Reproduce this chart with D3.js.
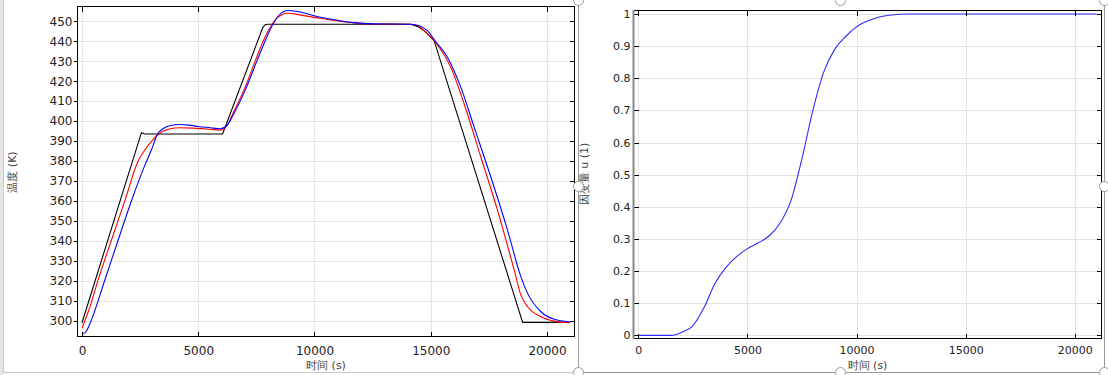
<!DOCTYPE html>
<html>
<head>
<meta charset="utf-8">
<script src="https://cdn.jsdelivr.net/npm/d3@7/dist/d3.min.js"></script>
<style>
  body { margin: 0; background: #fff; }
  svg { display: block; font-family: "DejaVu Sans", sans-serif; }
</style>
</head>
<body>
<svg id="chart" width="1108" height="375"></svg>
<script>
// tick labels
var timeTicks = [0, 5000, 10000, 15000, 20000]
var tempTicks = [300, 310, 320, 330, 340, 350, 360, 370, 380, 390, 400, 410, 420, 430, 440, 450]
var uTicks = [0, 0.1, 0.2, 0.3, 0.4, 0.5, 0.6, 0.7, 0.8, 0.9, 1]

// left chart: set temperature (black)
var setTime = [0, 2556, 2700, 6047, 7780, 7880, 7980, 14140, 14450, 14750, 15142, 18953, 21000]
var setTemp = [299, 394.2, 393.5, 393.5, 447, 448.3, 448.5, 448.5, 447.3, 445, 440.4, 299.2, 299.2]

// left chart: red curve
var redTime = [0, 300, 690, 1264, 1840, 2414, 2701, 3000, 3276, 3500, 3793, 4200, 4800, 5517, 5950, 6236,
  6500, 7000, 7457, 7700, 8000, 8300, 8600, 8823, 9200, 9600, 10259, 11000, 11695, 12500, 14140,
  14450, 14711, 15000, 15358, 15862, 16436, 17155, 17874, 18592, 18879, 19166, 19741, 20316, 20962]
var redTemp = [296.3, 305.5, 320.3, 340.3, 360, 380, 385.5, 390, 393.3, 395, 396.2, 396.7, 396.5, 395.9, 395.5, 397.8,
  404, 416.5, 430.3, 437.5, 445, 450.5, 453.3, 454, 453.6, 452.7, 451.5, 450.2, 449.2, 448.6, 448.5,
  447.8, 445.3, 442, 437, 427, 408.7, 382, 355.3, 325.3, 312.8, 307, 302, 299.8, 299]

// left chart: blue curve
var blueTime = [0, 200, 401, 978, 1552, 2125, 2701, 3000, 3250, 3500, 3800, 4200, 4600, 5000, 5517, 5950, 6236,
  6500, 7000, 7529, 7800, 8100, 8400, 8823, 9200, 9600, 10259, 11000, 11695, 12500, 14140,
  14500, 14856, 15200, 15718, 16293, 16867, 17586, 18305, 18879, 19166, 19741, 20316, 20962]
var blueTemp = [293.2, 295, 300.3, 320.3, 340.3, 360, 377.8, 386, 393.5, 396.3, 397.8, 398.3, 398, 397.3, 396.7, 396.2, 397.8,
  403, 415, 430.3, 438, 446, 452, 455.4, 455, 454, 452, 450.5, 449.3, 448.7, 448.5,
  447.8, 445.3, 440, 432, 417, 397, 372, 345.3, 322, 313.7, 304.5, 300.7, 299.5]

// right chart: dependent variable u
var uTime = [0, 1500, 2000, 2500, 3000, 3500, 4000, 4500, 5000, 5500, 6000, 6500, 7000, 7500, 8000,
  8500, 9000, 9500, 10000, 10500, 11000, 11500, 12000, 12500, 21000]
var uValue = [0, 0, 0.01, 0.03, 0.085, 0.16, 0.21, 0.245, 0.27, 0.288, 0.31, 0.35, 0.42, 0.55, 0.7,
  0.82, 0.89, 0.93, 0.96, 0.978, 0.99, 0.996, 0.999, 1, 1]

function zip(ts, vs) {
  return ts.map(function(t, i) { return { t: t, v: vs[i] } })
}

var svg = d3.select('#chart')

// window chrome around the panels
svg.append('rect').attr('x', 0).attr('y', 0).attr('width', 3).attr('height', 375).attr('fill', '#e6e6e6')
svg.append('line').attr('x1', 3.5).attr('x2', 3.5).attr('y1', 0).attr('y2', 372.5)
  .attr('stroke', '#c8c8c8')
svg.append('line').attr('x1', 3).attr('x2', 578).attr('y1', 372.5).attr('y2', 372.5)
  .attr('stroke', '#c8c8c8')

function drawPanel(cfg) {
  var x = cfg.x, y = cfg.y
  var left = x.range()[0], right = x.range()[1]
  var bottom = y.range()[0], top = y.range()[1]
  var g = svg.append('g')

  g.append('clipPath').attr('id', cfg.id + '-clip')
    .append('rect').attr('x', left).attr('y', top)
    .attr('width', right - left).attr('height', bottom - top)

  // grid
  g.selectAll('.gx').data(cfg.xTicks).enter().append('line')
    .attr('x1', function(d) { return Math.round(x(d)) + 0.5 })
    .attr('x2', function(d) { return Math.round(x(d)) + 0.5 })
    .attr('y1', top).attr('y2', bottom)
    .attr('stroke', '#e4e4e4')
  g.selectAll('.gy').data(cfg.yTicks).enter().append('line')
    .attr('x1', left).attr('x2', right)
    .attr('y1', function(d) { return Math.round(y(d)) + 0.5 })
    .attr('y2', function(d) { return Math.round(y(d)) + 0.5 })
    .attr('stroke', '#e4e4e4')

  // data lines
  var line = d3.line()
    .x(function(d) { return x(d.t) })
    .y(function(d) { return y(d.v) })
  var lines = g.append('g').attr('clip-path', 'url(#' + cfg.id + '-clip)')
  cfg.series.forEach(function(s) {
    lines.append('path')
      .attr('d', line.curve(s.curve)(s.data))
      .attr('fill', 'none')
      .attr('stroke', s.color)
      .attr('stroke-width', 1.1)
  })

  // axes
  var ax = g.append('g').attr('transform', 'translate(0,' + bottom + ')')
    .call(d3.axisBottom(x).tickValues(cfg.xTicks).tickSize(-5).tickPadding(cfg.xPad)
      .tickFormat(d3.format('d')))
  var ay = g.append('g').attr('transform', 'translate(' + left + ',0)')
    .call(d3.axisLeft(y).tickValues(cfg.yTicks).tickSize(cfg.yTick).tickPadding(cfg.yPad)
      .tickFormat(function(d) { return String(d) }))
  var at = g.append('g').attr('transform', 'translate(0,' + top + ')')
    .call(d3.axisTop(x).tickValues(cfg.xTicks).tickSize(-5).tickFormat(''))
  var ar = g.append('g').attr('transform', 'translate(' + right + ',0)')
    .call(d3.axisRight(y).tickValues(cfg.yTicks).tickSize(-5).tickFormat(''))

  ;[ax, ay, at, ar].forEach(function(a) {
    a.select('.domain').remove()
    a.attr('font-family', '"DejaVu Sans", sans-serif')
    a.selectAll('line').attr('stroke', '#000').attr('shape-rendering', 'crispEdges')
  })
  ax.attr('font-size', cfg.xFont).selectAll('text').attr('fill', '#222')
  ay.attr('font-size', cfg.yFont).selectAll('text').attr('fill', '#222')

  // frame
  g.append('rect')
    .attr('x', left).attr('y', top)
    .attr('width', right - left).attr('height', bottom - top)
    .attr('fill', 'none').attr('stroke', '#000').attr('shape-rendering', 'crispEdges')

  // axis titles
  g.append('text')
    .attr('x', (left + right) / 2).attr('y', cfg.xTitleY)
    .attr('text-anchor', 'middle').attr('font-size', 11).attr('fill', '#444')
    .text(cfg.xTitle)
  g.append('text')
    .attr('transform', 'translate(' + cfg.yTitleX + ',' + cfg.yTitleY + ') rotate(-90)')
    .attr('text-anchor', 'middle').attr('font-size', 11).attr('fill', '#444')
    .text(cfg.yTitle)
  return g
}

// left chart: temperatures
var xL = d3.scaleLinear().domain([-194, 21184]).range([77.5, 574.5])
var yL = d3.scaleLinear().domain([292.1, 457.4]).range([336.5, 6.5])
drawPanel({
  id: 'temp', x: xL, y: yL,
  xTicks: timeTicks, yTicks: tempTicks,
  xPad: 10, yTick: 4, yPad: 1, xFont: 12, yFont: 12,
  xTitle: '时间 (s)', xTitleY: 369,
  yTitle: '温度 (K)', yTitleX: 16, yTitleY: 172,
  series: [
    { data: zip(setTime, setTemp), color: '#000', curve: d3.curveLinear },
    { data: zip(redTime, redTemp), color: '#ff0000', curve: d3.curveMonotoneX },
    { data: zip(blueTime, blueTemp), color: '#0000ff', curve: d3.curveMonotoneX }
  ]
})

// right chart: dependent variable
var xR = d3.scaleLinear().domain([-220, 21225]).range([633.5, 1101.5])
var yR = d3.scaleLinear().domain([-0.0096, 1.0109]).range([338.5, 10.5])
var gR = drawPanel({
  id: 'u', x: xR, y: yR,
  xTicks: timeTicks, yTicks: uTicks,
  xPad: 8, yTick: -5, yPad: 3, xFont: 11, yFont: 11,
  xTitle: '时间 (s)', xTitleY: 369,
  yTitle: '因变量 u (1)', yTitleX: 588, yTitleY: 174,
  series: [
    { data: zip(uTime, uValue), color: '#2a2aff', curve: d3.curveMonotoneX }
  ]
})
// highlighted left axis of the right chart
gR.append('line').attr('x1', 633.5).attr('x2', 633.5).attr('y1', 10).attr('y2', 339)
  .attr('stroke', '#8a8a8a').attr('stroke-width', 2)

// selection frame with handles around the right panel
var frame = svg.append('g').attr('fill', 'none').attr('stroke', '#9a9a9a')
frame.append('path').attr('d', 'M578.5,0 V372.5 H1104.5 V0')
var handles = [[578, 0], [840, 0], [1104, 0], [578, 186], [1104, 186], [578, 372], [840, 372], [1104, 372]]
frame.selectAll('circle').data(handles).enter().append('circle')
  .attr('cx', function(d) { return d[0] + 0.5 })
  .attr('cy', function(d) { return d[1] + 0.5 })
  .attr('r', 5)
  .attr('fill', '#fff')
</script>
</body>
</html>
